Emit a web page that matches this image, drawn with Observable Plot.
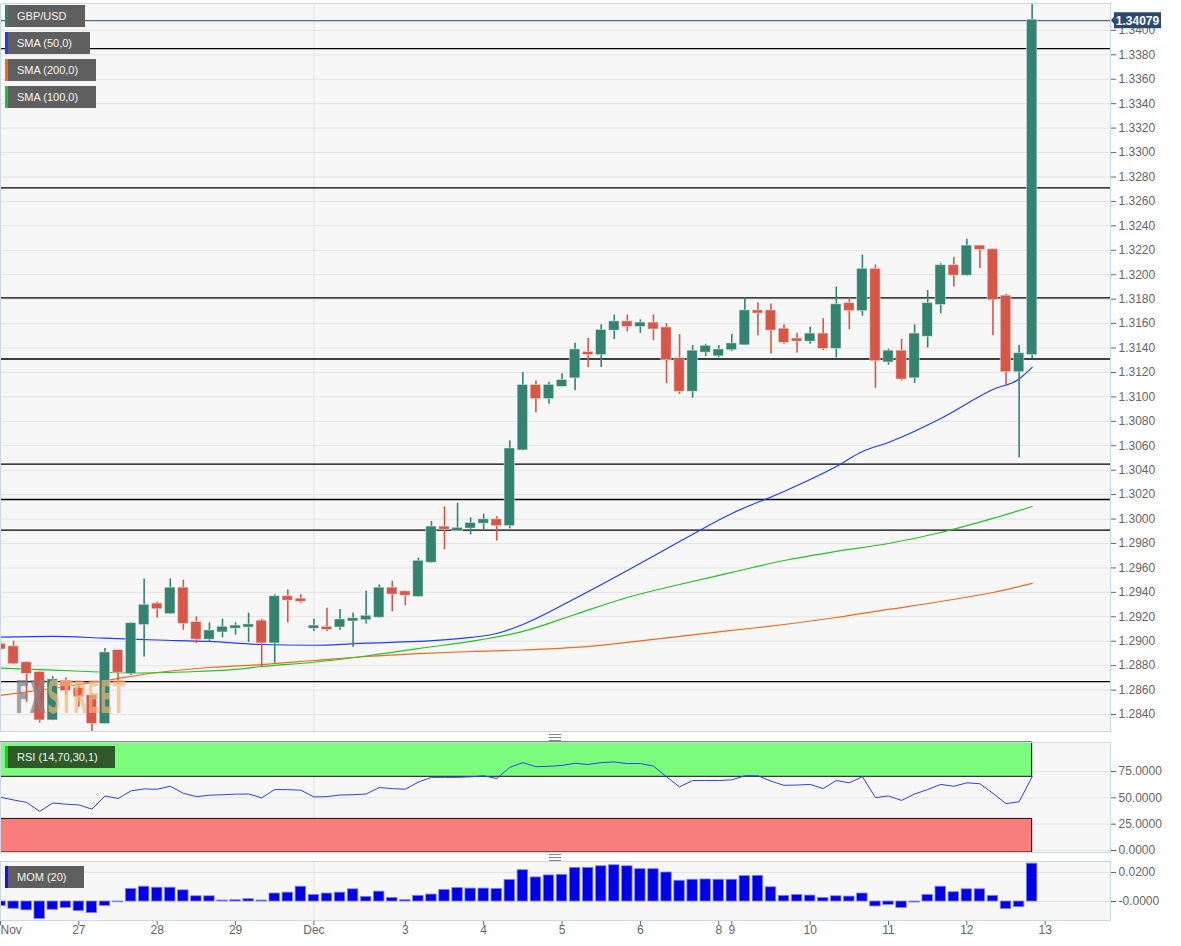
<!DOCTYPE html>
<html><head><meta charset="utf-8">
<script src="https://cdn.jsdelivr.net/npm/d3@7"></script>
<script src="https://cdn.jsdelivr.net/npm/@observablehq/plot@0.6"></script>
<style>
body{margin:0;background:#fff;font-family:"Liberation Sans",Arial,sans-serif;}
#wrap{position:relative;width:1181px;height:946px;overflow:hidden;background:#fff;}
#wrap svg{display:block;overflow:visible;}
.leg{position:absolute;left:5px;height:22px;background:#5f5f5f;color:#f4f4f4;font-size:11px;line-height:22px;padding-left:9px;box-sizing:border-box;border-left:3px solid;white-space:nowrap;}
.grip{position:absolute;left:549px;width:12px;height:5px;border-top:1px solid #888;border-bottom:1px solid #888;}
.grip:after{content:"";position:absolute;left:0;right:0;top:2px;border-top:1px solid #888;}
</style></head><body><div id="wrap"></div>
<script>
// ---- candle data (4h GBP/USD) ----
const opens = [1.2897,1.2895,1.2882,1.2874,1.2836,1.2867,1.2861,1.2855,1.2833,1.2892,
1.2874,1.2914,1.2930,1.2923,1.2943,1.2915,1.2902,1.2908,1.2911,1.2912,
1.2916,1.2899,1.2936,1.2934,1.2911,1.2911,1.2912,1.2917,1.2918,1.2920,
1.2943,1.2940,1.2937,1.2965,1.2993,1.2991,1.2993,1.2997,1.2999,1.2995,
1.3057,1.3109,1.3099,1.3109,1.3116,1.3136,1.3135,1.3155,1.3161,1.3158,
1.3160,1.3156,1.3131,1.3105,1.3137,1.3134,1.3139,1.3143,1.3170,1.3170,
1.3155,1.3147,1.3146,1.3151,1.3140,1.3176,1.3171,1.3204,1.3129,1.3137,
1.3116,1.3150,1.3176,1.3207,1.3200,1.3223,1.3220,1.3182,1.3121,1.3135];
const highs = [1.2900,1.2900,1.2883,1.2875,1.2871,1.2870,1.2863,1.2856,1.2894,1.2893,
1.2915,1.2951,1.2932,1.2951,1.2950,1.2920,1.2915,1.2918,1.2915,1.2923,
1.2918,1.2938,1.2942,1.2938,1.2918,1.2927,1.2926,1.2923,1.2941,1.2946,
1.2949,1.2941,1.2968,1.2998,1.3010,1.3013,1.3001,1.3004,1.3002,1.3064,
1.3120,1.3113,1.3112,1.3119,1.3144,1.3148,1.3159,1.3167,1.3167,1.3163,
1.3167,1.3160,1.3151,1.3142,1.3143,1.3142,1.3151,1.3181,1.3177,1.3176,
1.3159,1.3152,1.3157,1.3164,1.3190,1.3181,1.3216,1.3208,1.3139,1.3147,
1.3159,1.3187,1.3209,1.3214,1.3229,1.3224,1.3221,1.3184,1.3142,1.3422];
const lows = [1.2892,1.2881,1.2850,1.2833,1.2835,1.2856,1.2846,1.2826,1.2832,1.2865,
1.2872,1.2887,1.2919,1.2922,1.2909,1.2898,1.2899,1.2903,1.2905,1.2899,
1.2879,1.2882,1.2915,1.2931,1.2908,1.2908,1.2909,1.2895,1.2914,1.2919,
1.2924,1.2929,1.2936,1.2964,1.2975,1.2990,1.2987,1.2991,1.2982,1.2992,
1.3056,1.3087,1.3094,1.3108,1.3105,1.3124,1.3124,1.3147,1.3153,1.3152,
1.3146,1.3111,1.3102,1.3099,1.3133,1.3132,1.3137,1.3142,1.3150,1.3135,
1.3143,1.3136,1.3143,1.3138,1.3132,1.3155,1.3166,1.3107,1.3126,1.3113,
1.3111,1.3140,1.3168,1.3190,1.3199,1.3205,1.3150,1.3109,1.3050,1.3131];
const closes = [1.2894,1.2882,1.2874,1.2836,1.2868,1.2860,1.2855,1.2833,1.2890,1.2875,
1.2914,1.2929,1.2927,1.2943,1.2915,1.2902,1.2908,1.2911,1.2912,1.2913,
1.2899,1.2936,1.2934,1.2933,1.2912,1.2910,1.2917,1.2918,1.2920,1.2943,
1.2939,1.2938,1.2965,1.2993,1.2992,1.2992,1.2996,1.2999,1.2995,1.3057,
1.3109,1.3099,1.3109,1.3113,1.3138,1.3135,1.3154,1.3161,1.3158,1.3160,
1.3156,1.3131,1.3105,1.3137,1.3141,1.3138,1.3143,1.3170,1.3169,1.3155,
1.3145,1.3146,1.3151,1.3140,1.3175,1.3171,1.3204,1.3130,1.3137,1.3115,
1.3151,1.3176,1.3207,1.3200,1.3223,1.3221,1.3180,1.3121,1.3135,1.34079];

// ---- moving averages (read at candle indices) ----
const sma50Idx = [0,4,8,12,16,20,24,28,32,36,38,40,44,48,52,56,60,64,66,68,72,76,78,79];
const sma50 = [1.29033,1.29039,1.29025,1.29010,1.28998,1.28973,1.28967,1.28984,1.28998,1.29031,1.29063,1.29137,1.29350,1.29579,1.29816,1.30046,1.30226,1.30430,1.30553,1.30627,1.30823,1.31061,1.31147,1.31241];
const sma100Idx = [0,4,8,10,14,18,20,24,28,32,36,40,44,48,52,56,60,64,68,72,76,79];
const sma100 = [1.28779,1.28764,1.28746,1.28740,1.28748,1.28769,1.28793,1.28828,1.28879,1.28940,1.28998,1.29080,1.29219,1.29358,1.29464,1.29563,1.29661,1.29735,1.29800,1.29890,1.30005,1.30103];
const sma200Idx = [0,4,8,12,16,20,24,28,32,36,40,44,48,52,56,60,64,68,72,76,79];
const sma200 = [1.28556,1.28613,1.28678,1.28744,1.28785,1.28809,1.28842,1.28875,1.28899,1.28916,1.28928,1.28949,1.28990,1.29039,1.29088,1.29137,1.29194,1.29260,1.29325,1.29399,1.29473];

// ---- horizontal support / resistance levels ----
const levels = [1.3385,1.3271,1.3181,1.3131,1.3045,1.3016,1.2991,1.2867];

// ---- RSI (14) and MOM (20) ----
const rsi = [50.6,48,45.7,37.2,45.1,44,43.3,39.3,51.8,49.4,
56.7,58.5,58.2,61,54.3,51.2,52.5,53,53.5,53.7,
50,57.9,57.8,57.3,50.9,51.2,52.7,53,53.7,59.8,
58.8,58.2,65,69.5,69.5,69.5,70,71,68.3,79,
83.5,79.6,80,80.8,82.9,81.7,83.5,84.1,82.6,82.6,
80.2,70,60.4,66.5,66.5,66.5,67.1,71,71,65.9,
61.9,62.2,62.8,58.8,66.5,64.3,70.1,50.3,51.8,47.6,
53.7,57.9,62.8,61,64.3,63.4,54.3,44.5,46.3,70];
const mom = [-0.0032,-0.005,-0.0061,-0.012,-0.0057,-0.0045,-0.0066,-0.008,-0.003,-0.0005,
0.0086,0.0102,0.0095,0.0095,0.0077,0.0036,0.0036,0.0007,0.0009,0.0016,
0.0007,0.0055,0.0061,0.0102,0.0045,0.0055,0.0061,0.0084,0.0032,0.0068,
0.0025,0.0009,0.0039,0.0048,0.008,0.0093,0.0089,0.0089,0.0086,0.0148,
0.0216,0.0166,0.018,0.0184,0.0232,0.0232,0.0243,0.025,0.0243,0.0223,
0.0223,0.02,0.0143,0.015,0.0152,0.015,0.015,0.0175,0.0177,0.0098,
0.0039,0.0045,0.0041,0.0025,0.0036,0.0034,0.0055,-0.0034,-0.0023,-0.0045,
-0.0007,0.0045,0.0102,0.0064,0.0084,0.0084,0.0039,-0.0052,-0.0039,0.0261];

// ---- axes ----
const priceTicks = [1.284,1.286,1.288,1.290,1.292,1.294,1.296,1.298,1.300,1.302,1.304,1.306,1.308,1.310,1.312,1.314,1.316,1.318,1.320,1.322,1.324,1.326,1.328,1.330,1.332,1.334,1.336,1.338,1.340];
const rsiTicks = [0,25,50,75];
const rsiBands = [70,30];
const momTicks = [0,0.02];
const dateIdx = [0,6,12,18,24,31,37,43,49,55,56,62,68,74,80];
const dateLabels = ["Nov","27","28","29","Dec","3","4","5","6","8","9","10","11","12","13"];
const monthIdx = [24];
const legendItems = [
  {label:"GBP/USD", color:"#338370", width:80},
  {label:"SMA (50,0)", color:"#1f3cff", width:85},
  {label:"SMA (200,0)", color:"#f26a1b", width:91},
  {label:"SMA (100,0)", color:"#22c522", width:91}
];

// ---- build ----
const UP = "#338370", DOWN = "#d65747", NAVY = "#2b4a70", BORDER = "#cfd6e6", GRID = "#e4e4e4", BG = "#f7f7f7";
const XD = [0, 85];
const FONT = {fontFamily:"Liberation Sans, Arial, sans-serif", fontSize:"12px", color:"#666", background:"transparent", overflow:"visible"};
const candles = opens.map((o,i)=>({i, open:o, high:highs[i], low:lows[i], close:closes[i]}));
const ups = candles.filter(d=>d.close>=d.open), downs = candles.filter(d=>d.close<d.open);
const pts = (idx, vals) => idx.map((i,k)=>({i, v:vals[k]}));
const last = candles[candles.length-1];
const fmtTick = d => d.toFixed(4);

const wrap = document.getElementById("wrap");

const main = Plot.plot({
  width:1181, height:735, marginLeft:0, marginRight:71, marginTop:3, marginBottom:4,
  style: FONT,
  x:{domain:XD, axis:null},
  y:{domain:[1.28261,1.3422], axis:"right", ticks:priceTicks, tickFormat:fmtTick, tickSize:5, tickPadding:3, label:null},
  marks:[
    Plot.frame({fill:BG, stroke:null}),
    Plot.ruleY(priceTicks, {stroke:GRID}),
    Plot.ruleX(monthIdx, {stroke:GRID}),
    Plot.ruleY(levels, {stroke:"#000", strokeWidth:1.3}),
    Plot.ruleY([last.close], {stroke:NAVY, strokeWidth:1}),
    Plot.line(pts(sma200Idx,sma200), {x:"i", y:"v", stroke:"#f26a1b", strokeWidth:1.2, curve:"monotone-x", clip:true}),
    Plot.line(pts(sma100Idx,sma100), {x:"i", y:"v", stroke:"#22c522", strokeWidth:1.2, curve:"monotone-x", clip:true}),
    Plot.line(pts(sma50Idx,sma50), {x:"i", y:"v", stroke:"#1f3cff", strokeWidth:1.2, curve:"monotone-x", clip:true}),
    Plot.ruleX(ups, {x:"i", y1:"low", y2:"high", stroke:UP, strokeWidth:1.6, clip:true}),
    Plot.ruleX(downs, {x:"i", y1:"low", y2:"high", stroke:DOWN, strokeWidth:1.6, clip:true}),
    Plot.rect(ups, {x1:d=>d.i-0.4, x2:d=>d.i+0.4, y1:"open", y2:"close", fill:UP, stroke:"#fff", strokeOpacity:0.45, insetTop:-1, insetBottom:-1, clip:true}),
    Plot.rect(downs, {x1:d=>d.i-0.4, x2:d=>d.i+0.4, y1:"open", y2:"close", fill:DOWN, stroke:"#fff", strokeOpacity:0.45, insetTop:-1, insetBottom:-1, clip:true}),
    Plot.frame({stroke:BORDER})
  ]
});
wrap.appendChild(main);

const rsiPlot = Plot.plot({
  width:1181, height:126, marginLeft:0, marginRight:71, marginTop:7, marginBottom:9,
  style: FONT,
  x:{domain:XD, axis:null},
  y:{domain:[-1.9,102.6], axis:"right", ticks:rsiTicks, tickFormat:fmtTick, tickSize:5, tickPadding:3, label:null},
  marks:[
    Plot.frame({fill:BG, stroke:null}),
    Plot.ruleY(rsiTicks, {stroke:GRID}),
    Plot.ruleX(monthIdx, {stroke:GRID}),
    Plot.rect([{lo:rsiBands[0], hi:102.6, f:"#7cfc7c"}, {lo:-1.9, hi:rsiBands[1], f:"#fa7d7d"}],
      {x1:()=>0, x2:()=>last.i, y1:"lo", y2:"hi", fill:"f", stroke:"#111", strokeWidth:1}),
    Plot.line(rsi, {x:(d,i)=>i, y:d=>d, stroke:"#2a40ff", strokeWidth:1, clip:true}),
    Plot.frame({stroke:BORDER})
  ]
});
wrap.appendChild(rsiPlot);

const momData = mom.map((v,i)=>({i, v}));
const momPlot = Plot.plot({
  width:1181, height:85, marginLeft:0, marginRight:71, marginTop:0, marginBottom:26,
  style: FONT,
  x:{domain:XD, axis:"bottom", ticks:dateIdx, tickFormat:()=>"", tickSize:5, label:null},
  y:{domain:[-0.0131,0.0276], axis:"right", ticks:momTicks, tickFormat:d=>d===0?"-0.0000":d.toFixed(4), tickSize:5, tickPadding:3, label:null},
  marks:[
    Plot.frame({fill:BG, stroke:null}),
    Plot.ruleY(momTicks, {stroke:GRID}),
    Plot.ruleX(monthIdx, {stroke:GRID}),
    Plot.rect(momData, {x1:d=>d.i-0.4, x2:d=>d.i+0.4, y1:()=>0, y2:"v", fill:"#0000e8", stroke:"#7f7fff", strokeWidth:0.8, clip:true}),
    Plot.frame({stroke:BORDER}),
    Plot.text(dateIdx.slice(0,1), {x:d=>d, text:(d,i)=>dateLabels[i], frameAnchor:"bottom", dy:13, textAnchor:"start", fill:"#666", fontSize:12}),
    Plot.text(dateIdx.slice(1), {x:d=>d, text:(d,i)=>dateLabels[i+1], frameAnchor:"bottom", dy:13, fill:"#666", fontSize:12})
  ]
});
wrap.appendChild(momPlot);

// ---- price tag + watermark on main chart (positioned with its scales) ----
const ys = main.scale("y"), xs = main.scale("x");
const py = ys.apply(last.close), px = xs.apply(XD[1]);
const svg = d3.select(main);
const wm = svg.append("g").attr("font-family","DejaVu Sans Condensed, DejaVu Sans, sans-serif").attr("font-weight","bold").attr("font-size",44).attr("text-anchor","start");
wm.append("text").attr("x",15).attr("y",713).attr("textLength",31).attr("lengthAdjust","spacingAndGlyphs").attr("fill","#7f8590").attr("fill-opacity",0.75).text("FX");
wm.append("text").attr("x",47).attr("y",713).attr("textLength",78).attr("lengthAdjust","spacingAndGlyphs").attr("fill","#f5b57a").attr("fill-opacity",0.7).text("STREET");
const tag = svg.append("g");
tag.append("path").attr("d",`M${px+1},${py} l4,-5 v10 z`).attr("fill",NAVY);
tag.append("rect").attr("x",px+4).attr("y",py-8).attr("width",47).attr("height",16).attr("fill",NAVY);
tag.append("text").attr("x",px+27.5).attr("y",py+4.3).attr("text-anchor","middle").attr("fill","#fff").attr("font-weight","bold").attr("font-size",12).attr("font-family","Liberation Sans, Arial, sans-serif").text(last.close.toFixed(5));

// ---- legends ----
legendItems.forEach((d,k)=>{
  const el = document.createElement("div");
  el.className="leg"; el.style.top=(5+k*27)+"px"; el.style.width=d.width+"px"; el.style.borderLeftColor=d.color;
  el.textContent=d.label; wrap.appendChild(el);
});
const rl = document.createElement("div");
rl.className="leg"; rl.style.top="746px"; rl.style.width="110px"; rl.style.background="#2e5a2a"; rl.style.borderLeftColor="#22cc22"; rl.textContent="RSI (14,70,30,1)"; wrap.appendChild(rl);
const ml = document.createElement("div");
ml.className="leg"; ml.style.top="866px"; ml.style.width="79px"; ml.style.borderLeftColor="#1010ff"; ml.textContent="MOM (20)"; wrap.appendChild(ml);
[734,854].forEach(t=>{const g=document.createElement("div"); g.className="grip"; g.style.top=t+"px"; wrap.appendChild(g);});
</script></body></html>
